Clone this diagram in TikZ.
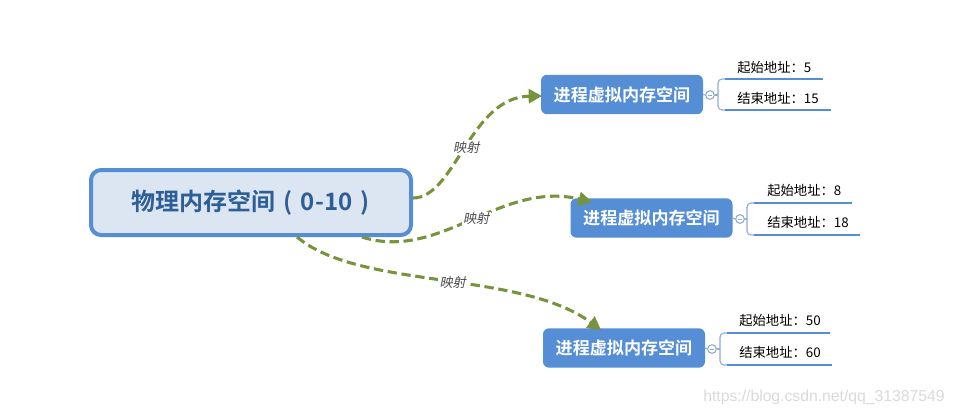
\documentclass[tikz,border=0pt]{standalone}
\usepackage{fontspec}
\setmainfont{Liberation Sans}
\newfontfamily\cjk{Noto Sans CJK SC}
\newfontfamily\cjkb{Noto Sans CJK SC Bold}
\newfontfamily\cjkit[FakeSlant=0.2]{Noto Sans CJK SC}
\usetikzlibrary{arrows.meta}
\definecolor{mainfill}{HTML}{DCE6F2}
\definecolor{blueA}{HTML}{558ED5}
\definecolor{maintext}{HTML}{2E5E96}
\definecolor{edgegreen}{HTML}{77933C}
\definecolor{markc}{HTML}{8FAAD4}
\tikzset{
  rootbox/.style={draw=blueA, fill=mainfill, line width=3pt, rounded corners=7.5pt,
    minimum width=240pt, minimum height=48.75pt, inner sep=0pt,
    font=\cjkb\fontsize{18}{20}\selectfont, text=maintext},
  childbox/.style={fill=blueA, rounded corners=4.5pt, minimum width=121.5pt,
    minimum height=29.5pt, inner sep=0pt, font=\cjkb\fontsize{12.8}{14}\selectfont, text=white},
  leaf/.style={anchor=west, inner sep=0pt, font=\cjk\fontsize{10}{12}\selectfont, text=black},
  mapedge/.style={draw=edgegreen, line width=2.3pt, dash pattern=on 7pt off 3.5pt,
    -{Triangle[length=10pt,width=10.5pt]}},
  maplabel/.style={fill=white, inner sep=1pt, font=\cjkit\fontsize{9.8}{11}\selectfont, text=black!70},
  marker/.style={circle, draw=markc, fill=white, line width=0.8pt, minimum size=6.5pt, inner sep=0pt},
  bracket/.style={draw=markc, line width=0.8pt, rounded corners=3pt},
  uline/.style={draw=blueA, line width=1.6pt},
}
\newcommand{\minusmark}[1]{\draw[markc, line width=0.7pt] ([xshift=-1.8pt]#1.center) -- ([xshift=1.8pt]#1.center);}
\begin{document}
\begin{tikzpicture}[x=0.75pt, y=-0.75pt]
\useasboundingbox (0,0) rectangle (955,415);

\node[rootbox] (root) at (251,202.5) {物理内存空间\hspace{5.5pt}(\hspace{6.5pt}0-10\hspace{6.5pt})};

\node[childbox] (v1) at (622,94.5) {进程虚拟内存空间};
\node[childbox] (v2) at (651.5,218) {进程虚拟内存空间};
\node[childbox] (v3) at (624,348) {进程虚拟内存空间};

% edges
\coordinate (s1) at (413,198);
\coordinate (s2) at (362,237);
\coordinate (s3) at (297,237);
\coordinate (e1) at (542,96);
\coordinate (e2) at (592,202);
\coordinate (e3) at (601,330);
\draw[mapedge] (s1) .. controls (455,198) and (470,97) .. (e1)
  node[pos=0.5, maplabel] {映射};
\draw[mapedge] (s2) .. controls (440,262) and (500,180) .. (e2)
  node[pos=0.52, maplabel] {映射};
\draw[mapedge] (s3) .. controls (360,290) and (520,270) .. (e3)
  node[pos=0.53, maplabel] {映射};

% branch 1
\node[marker] (m1) at (710,95) {};
\minusmark{m1}
\draw[markc, line width=0.8pt] (v1.east) -- (m1.west);
\draw[markc, line width=0.8pt] (m1.east) -- (718,95);
\draw[bracket] (727,79) -| (718,110) -- (727,110);
\node[leaf] (a1) at (737,67) {起始地址：5};
\node[leaf] (b1) at (737,98) {结束地址：15};
\draw[uline] (725,79) -- (823,79);
\draw[uline] (725,110) -- (831,110);

% branch 2
\node[marker] (m2) at (740,219) {};
\minusmark{m2}
\draw[markc, line width=0.8pt] (v2.east) -- (m2.west);
\draw[markc, line width=0.8pt] (m2.east) -- (747,219);
\draw[bracket] (756,203) -| (747,235) -- (756,235);
\node[leaf] (a2) at (767,190) {起始地址：8};
\node[leaf] (b2) at (767,222) {结束地址：18};
\draw[uline] (754,203) -- (852,203);
\draw[uline] (754,235) -- (860,235);

% branch 3
\node[marker] (m3) at (712,349) {};
\minusmark{m3}
\draw[markc, line width=0.8pt] (v3.east) -- (m3.west);
\draw[markc, line width=0.8pt] (m3.east) -- (720,349);
\draw[bracket] (729,333) -| (720,365) -- (729,365);
\node[leaf] (a3) at (739,320) {起始地址：50};
\node[leaf] (b3) at (739,352) {结束地址：60};
\draw[uline] (727,333) -- (830,333);
\draw[uline] (727,365) -- (832,365);

% watermark
\node[anchor=west, inner sep=0pt, text=black!15, font=\fontsize{11.8}{13}\selectfont] (wm) at (703,397) {https://blog.csdn.net/qq\_31387549};
\end{tikzpicture}
\end{document}
